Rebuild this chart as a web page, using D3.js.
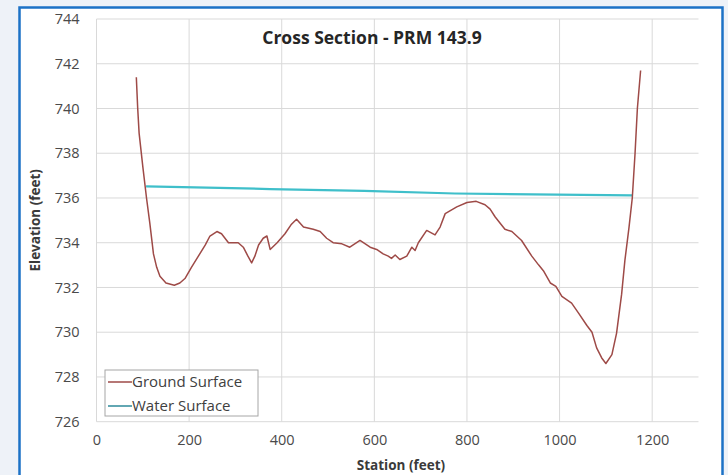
<!DOCTYPE html>
<html>
<head>
<meta charset="utf-8">
<script src="https://cdn.jsdelivr.net/npm/d3@7"></script>
<style>
  body { margin: 0; background: #eef2f8; }
  svg { display: block; }
  .tick text { font-family: "Open Sans", sans-serif; font-size: 14.5px; fill: #4a4a4a; }
</style>
</head>
<body>
<svg id="chart" width="728" height="475"></svg>
<script>
// Ground surface profile (station in feet, elevation in feet)
var groundStation = [86, 89, 92, 100, 108, 115, 123, 130, 137, 150, 168, 180, 191, 205, 220, 235, 245, 260, 270, 285,
    306, 317, 327, 335, 342, 350, 360, 368, 375, 390, 407, 420, 432, 447, 468, 483, 497, 511, 530, 547,
    569, 591, 605, 619, 630, 637, 645, 655, 670, 681, 688, 695, 713, 731, 742, 753, 778, 800, 820, 839,
    850, 861, 882, 897, 918, 940, 955, 965, 980, 992, 1005, 1026, 1041, 1059, 1070, 1080, 1091, 1100, 1113, 1123,
    1134, 1141, 1150, 1157, 1163, 1168, 1175];
var groundElev = [741.4, 740.0, 738.9, 737.4, 736.0, 734.9, 733.5, 732.9, 732.5, 732.2, 732.1, 732.2, 732.4, 732.9, 733.4, 733.9, 734.3, 734.5, 734.4, 734.0,
    734.0, 733.8, 733.4, 733.1, 733.4, 733.9, 734.2, 734.3, 733.7, 734.0, 734.4, 734.8, 735.05, 734.7, 734.6, 734.5, 734.2, 734.0, 733.95, 733.8,
    734.1, 733.8, 733.7, 733.5, 733.4, 733.3, 733.45, 733.25, 733.4, 733.8, 733.65, 734.0, 734.55, 734.35, 734.7, 735.3, 735.6, 735.8, 735.85, 735.7,
    735.5, 735.15, 734.6, 734.5, 734.1, 733.4, 733.0, 732.75, 732.2, 732.05, 731.6, 731.3, 730.85, 730.3, 730.0, 729.3, 728.85, 728.6, 729.0, 729.95,
    731.7, 733.2, 734.7, 736.0, 738.0, 740.0, 741.7];

// Water surface
var waterStation = [107, 375, 578, 774, 1157];
var waterElev = [736.52, 736.4, 736.32, 736.2, 736.12];

var xTicks = [0, 200, 400, 600, 800, 1000, 1200];
var yTicks = [726, 728, 730, 732, 734, 736, 738, 740, 742, 744];

var seriesNames = ["Ground Surface", "Water Surface"];
var seriesColors = ["#9e4a47", "#3fbfca"];

var svg = d3.select("#chart");

// outer frame
svg.append("rect")
    .attr("x", 19.5).attr("y", 7.5)
    .attr("width", 703).attr("height", 480)
    .attr("fill", "#ffffff")
    .attr("stroke", "#1c72c6")
    .attr("stroke-width", 2.5);

var x = d3.scaleLinear().domain([0, 1300]).range([96.5, 698.5]);
var y = d3.scaleLinear().domain([726, 744]).range([421.7, 19]);

// grid lines
svg.append("g").selectAll("line.h")
    .data(yTicks)
    .join("line")
    .attr("x1", x(0)).attr("x2", x(1300))
    .attr("y1", function (d) { return y(d); })
    .attr("y2", function (d) { return y(d); })
    .attr("stroke", "#d9d9d9").attr("stroke-width", 1);

svg.append("g").selectAll("line.v")
    .data(xTicks)
    .join("line")
    .attr("x1", function (d) { return x(d); })
    .attr("x2", function (d) { return x(d); })
    .attr("y1", y(744)).attr("y2", y(726))
    .attr("stroke", "#d9d9d9").attr("stroke-width", 1);

// axes (labels only)
var xAxis = svg.append("g")
    .attr("transform", "translate(0," + y(726) + ")")
    .call(d3.axisBottom(x).tickValues(xTicks).tickSize(0).tickPadding(13).tickFormat(d3.format("d")));
xAxis.select(".domain").remove();

var yAxis = svg.append("g")
    .attr("transform", "translate(" + x(0) + ",0)")
    .call(d3.axisLeft(y).tickValues(yTicks).tickSize(0).tickPadding(17).tickFormat(d3.format("d")));
yAxis.select(".domain").remove();

// lines
var line = d3.line()
    .x(function (d) { return x(d[0]); })
    .y(function (d) { return y(d[1]); });

var ground = d3.zip(groundStation, groundElev);
var water = d3.zip(waterStation, waterElev);

svg.append("path")
    .datum(water)
    .attr("d", line)
    .attr("fill", "none")
    .attr("stroke", seriesColors[1])
    .attr("stroke-width", 2.2);

svg.append("path")
    .datum(ground)
    .attr("d", line)
    .attr("fill", "none")
    .attr("stroke", seriesColors[0])
    .attr("stroke-width", 1.5)
    .attr("stroke-linejoin", "round");

// titles
svg.append("text")
    .attr("x", 372).attr("y", 44)
    .attr("text-anchor", "middle")
    .attr("font-family", "Open Sans, sans-serif")
    .attr("font-weight", "bold")
    .attr("font-size", 17.5)
    .attr("fill", "#262626")
    .text("Cross Section - PRM 143.9");

svg.append("text")
    .attr("x", 401).attr("y", 470)
    .attr("text-anchor", "middle")
    .attr("font-family", "Open Sans, sans-serif")
    .attr("font-weight", "bold")
    .attr("font-size", 13.5)
    .attr("fill", "#3a3a3a")
    .text("Station (feet)");

svg.append("text")
    .attr("transform", "translate(40," + (y(735)) + ") rotate(-90)")
    .attr("text-anchor", "middle")
    .attr("font-family", "Open Sans, sans-serif")
    .attr("font-weight", "bold")
    .attr("font-size", 13.5)
    .attr("fill", "#3a3a3a")
    .text("Elevation (feet)");

// legend
var legend = svg.append("g").attr("transform", "translate(105,370)");
legend.append("rect")
    .attr("width", 153).attr("height", 46)
    .attr("fill", "#ffffff")
    .attr("stroke", "#a6a6a6").attr("stroke-width", 1);

var items = legend.selectAll("g.item")
    .data(seriesNames)
    .join("g")
    .attr("transform", function (d, i) { return "translate(0," + (12 + i * 24) + ")"; });

items.append("line")
    .attr("x1", 3).attr("x2", 27)
    .attr("stroke", function (d, i) { return i === 0 ? seriesColors[0] : "#2e8a9a"; })
    .attr("stroke-width", 1.5);

items.append("text")
    .attr("x", 27).attr("dy", "0.35em")
    .attr("font-family", "Open Sans, sans-serif")
    .attr("font-size", 15)
    .attr("fill", "#404040")
    .text(function (d) { return d; });
</script>
</body>
</html>
